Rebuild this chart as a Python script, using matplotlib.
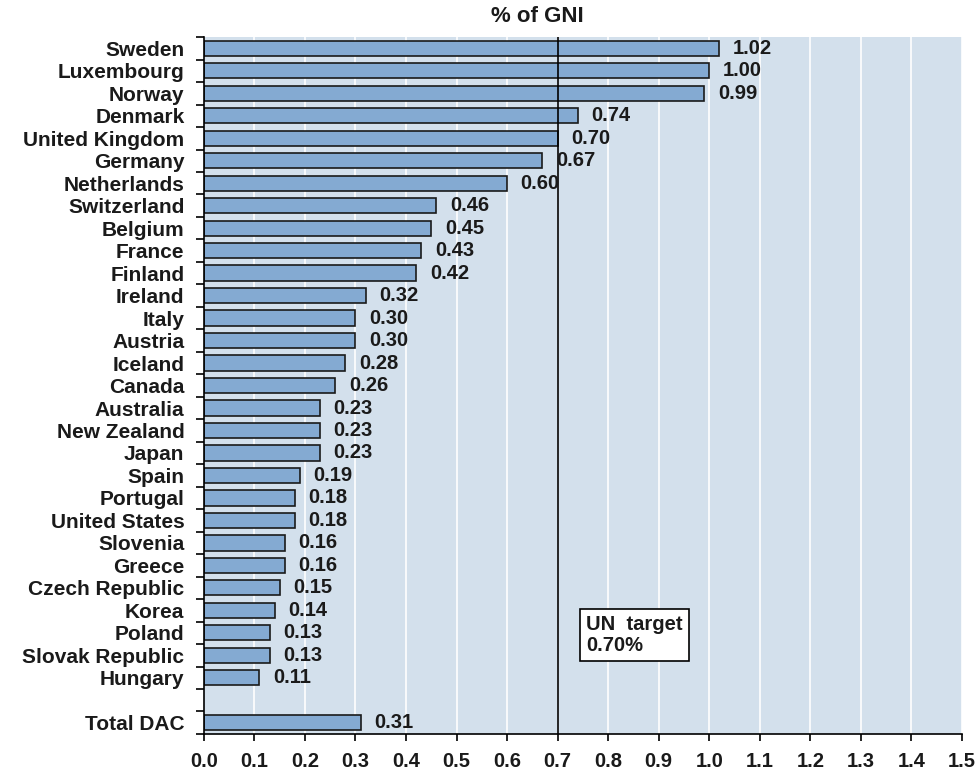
import numpy as np
import matplotlib.pyplot as plt

plt.rcParams['font.family'] = ['Liberation Sans', 'DejaVu Sans']

countries = ['Sweden', 'Luxembourg', 'Norway', 'Denmark', 'United Kingdom',
             'Germany', 'Netherlands', 'Switzerland', 'Belgium', 'France',
             'Finland', 'Ireland', 'Italy', 'Austria', 'Iceland', 'Canada',
             'Australia', 'New Zealand', 'Japan', 'Spain', 'Portugal',
             'United States', 'Slovenia', 'Greece', 'Czech Republic', 'Korea',
             'Poland', 'Slovak Republic', 'Hungary']
values = [1.02, 1.00, 0.99, 0.74, 0.70, 0.67, 0.60, 0.46, 0.45, 0.43, 0.42,
          0.32, 0.30, 0.30, 0.28, 0.26, 0.23, 0.23, 0.23, 0.19, 0.18, 0.18,
          0.16, 0.16, 0.15, 0.14, 0.13, 0.13, 0.11]
total_label = 'Total DAC'
total_value = 0.31
un_target = 0.70
xticks = [round(0.1 * i, 1) for i in range(16)]

labels = countries + [total_label]
vals = values + [total_value]
pos = list(range(len(countries))) + [len(countries) + 1]

fig = plt.figure(figsize=(9.8, 7.73), dpi=100)
ax = fig.add_axes([0.208, 0.0505, 0.7736, 0.9015])
ax.set_facecolor('#d3e0ec')

for x in xticks[1:]:
    ax.axvline(x, color='white', lw=1.2, zorder=1)

ax.barh(pos, vals, height=0.68, color='#84aad2', edgecolor='#1a1a1a',
        lw=1.2, zorder=2)
ax.axvline(un_target, color='black', lw=1.2, zorder=3)

for p, v in zip(pos, vals):
    ax.text(v + 0.027, p, f'{v:.2f}', va='center', ha='left',
            fontsize=14.5, fontweight='bold', color='#1a1a1a', zorder=4)

# UN target note box
ax.text(0.757, 26.1, 'UN  target\n0.70%', ha='left', va='center',
        fontsize=14.5, fontweight='bold', linespacing=1.1, zorder=5,
        color='#1a1a1a',
        bbox=dict(boxstyle='square,pad=0.3', fc='white', ec='black', lw=1.2))

ax.set_xlim(0, 1.5)
ax.set_ylim(pos[-1] + 0.5, -0.5)
ax.set_xticks(xticks)
ax.set_xticklabels([f'{x:.1f}' for x in xticks], fontsize=14.5,
                   fontweight='bold', color='#1a1a1a')
ax.set_yticks(pos)
ax.set_yticklabels(labels, fontsize=15, fontweight='bold', color='#1a1a1a')
ax.tick_params(axis='y', length=0, pad=14)
ax.set_yticks([p + 0.5 for p in range(-1, pos[-1] + 1)], minor=True)
ax.tick_params(axis='y', which='minor', length=6, width=1.2, direction='out')
ax.tick_params(axis='x', length=5, width=1.2, direction='out', pad=8)

for side in ['top', 'right']:
    ax.spines[side].set_visible(False)
for side in ['left', 'bottom']:
    ax.spines[side].set_linewidth(1.2)

fig.text(0.548, 0.979, '% of GNI', ha='center', va='center', fontsize=16,
         fontweight='bold', color='#1a1a1a')

fig.savefig('out.png', dpi=100)
